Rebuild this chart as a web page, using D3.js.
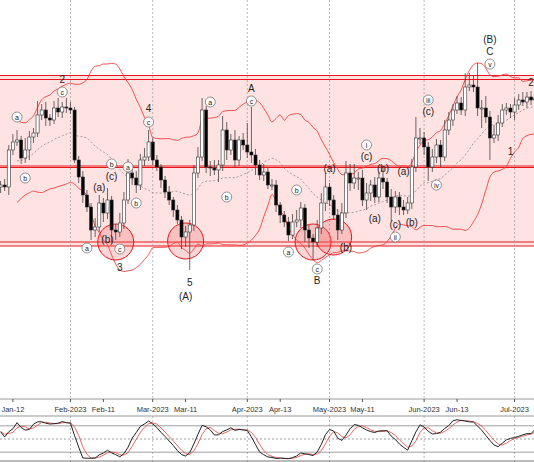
<!DOCTYPE html>
<html><head><meta charset="utf-8">
<script src="https://cdn.jsdelivr.net/npm/d3@7"></script>
<style>body{margin:0;background:#fff}svg{display:block;font-family:"Liberation Sans",Arial,sans-serif}</style>
</head><body><div id="vis"></div>
<script>
const W = 534, H = 462;
const PRICE_BOTTOM = 399;

// closes (arbitrary price units, higher = up), one per weekday from 2023-01-09
const closes = [215,213,250,258,260,242,250,263,267,285,290,282,280,292,288,293,292,290,240,223,205,193,170,173,197,187,200,170,168,177,200,227,222,215,240,243,258,240,233,220,208,200,190,180,163,168,175,227,243,290,233,232,230,235,270,250,260,240,260,255,248,245,235,225,228,215,215,195,185,178,165,178,180,192,170,162,158,172,197,213,200,185,170,187,227,217,222,222,200,207,215,203,222,218,203,193,203,193,190,197,233,262,262,253,233,243,255,243,270,280,290,297,290,313,315,313,292,292,283,262,265,277,290,292,288,295,300,298,303,300,302];
const upWick = [4,6,5,8,10,4,12,6,5,14,6,8,4,7,10,5,9,6,3,4,6,5,4,9,8,5,12,4,6,10,8,14,5,7,6,9,12,4,5,3,4,6,3,5,4,6,5,8,10,12,4,6,8,5,14,8,6,10,4,7,22,45,6,5,8,4,6,5,3,4,5,8,10,6,4,5,4,8,10,14,4,5,6,10,12,9,14,6,8,10,5,8,6,10,4,8,6,5,7,6,8,21,10,6,5,8,6,5,10,8,6,7,6,14,12,10,24,8,12,6,10,8,6,5,4,7,6,8,5,6,7];
const dnWick = [6,4,8,5,4,6,5,10,6,4,5,8,6,4,5,6,5,4,3,6,8,5,10,7,5,9,6,12,8,5,6,4,7,8,5,6,4,5,4,8,6,5,7,4,12,10,38,6,5,4,6,8,5,12,6,10,5,7,6,5,6,8,10,5,6,4,5,7,8,5,6,4,5,8,12,10,18,5,6,8,6,5,10,4,5,8,6,12,6,10,8,6,5,7,6,14,6,8,5,4,6,5,6,8,14,5,6,10,4,5,6,4,5,6,4,5,8,20,6,22,5,6,4,5,6,8,5,4,6,5,4];

const tickLabels = ["Jan-12","Feb-2023","Feb-11","Mar-2023","Mar-11","Apr-2023","Apr-13","May-2023","May-11","Jun-2023","Jun-13","Jul-2023"];
const tickDates = ["2023-01-12","2023-02-01","2023-02-13","2023-03-01","2023-03-13","2023-04-03","2023-04-13","2023-05-01","2023-05-11","2023-06-01","2023-06-13","2023-07-03"];
const monthStarts = ["2023-02-01","2023-03-01","2023-04-03","2023-05-01","2023-06-01","2023-07-03"];

// horizontal zone levels (pairs of thin lines)
const zoneLevels = [324.5, 320.5, 234, 232.5, 158, 154];

// wave labels: candle index, price, text, circled?
const waveLabels = [
  [4,283,"a",1],[6,222,"b",1],[15,308,"c",1],[15,320,"2",0],
  [21,152,"a",1],[24,212,"(a)",0],[26,160,"(b)",0],[27,223,"(c)",0],[27,236,"b",1],[29,151,"c",1],[29,132,"3",0],
  [31,233,"a",1],[33,197,"b",1],[36,278,"c",1],[36,291,"4",0],
  [46,117,"5",0],[45,103,"(A)",0],
  [51,298,"a",1],[55,203,"b",1],[61,299,"c",1],[61,311,"A",0],
  [70,148,"a",1],[72,210,"b",1],[77,131,"c",1],[77,119,"B",0],
  [80,231,"(a)",0],[84,152,"(b)",0],
  [89,255,"i",1],[89,243,"(c)",0],[91,181,"(a)",0],[93,231,"(b)",0],
  [96,175,"(c)",0],[96,163,"ii",1],[98,228,"(a)",0],[100,177,"(b)",0],
  [104,300,"iii",1],[104,288,"(c)",0],[106,215,"iv",1],
  [119,336,"v",1],[119,348,"C",0],[119,360,"(B)",0],
  [124,248,"1",0],[129,317,"2",0]
];

// circled areas: candle index, price
const circles = [[28,158],[45,159],[76,158],[81,163]];

// build dates
const dates = [];
let d = new Date(2023,0,9);
while (dates.length < closes.length) {
  if (d.getDay() !== 0 && d.getDay() !== 6) dates.push(new Date(d));
  d.setDate(d.getDate()+1);
}
const candles = closes.map((c,i) => {
  const o = i === 0 ? 213 : closes[i-1];
  return {i, date: dates[i], o, c, h: Math.max(o,c)+upWick[i], l: Math.min(o,c)-dnWick[i]};
});

const x = d3.scaleBand().domain(d3.range(closes.length)).range([-2, -2 + 4.12*closes.length]).padding(0.25);
const cx = i => x(i) + x.bandwidth()/2;
const y = d3.scaleLinear().domain([0,400]).range([400,0]);
const idxOf = s => { const t = new Date(s+"T00:00"); return dates.findIndex(dd => dd >= t); };

const svg = d3.select("#vis").append("svg").attr("width",W).attr("height",H);

// zone fill
svg.append("rect").attr("x",0).attr("width",W).attr("y",y(324.5)).attr("height",y(154)-y(324.5)).attr("fill","#ffe3e3");
zoneLevels.forEach(v => svg.append("line").attr("x1",0).attr("x2",W).attr("y1",y(v)).attr("y2",y(v))
  .attr("stroke","#e8161b").attr("stroke-width",1.1));

// month grid
monthStarts.forEach(s => svg.append("line").attr("x1",cx(idxOf(s))).attr("x2",cx(idxOf(s)))
  .attr("y1",0).attr("y2",H).attr("stroke","#999").attr("stroke-dasharray","2,2").attr("stroke-width",0.7));

// bollinger + sma
const N = 20;
const bb = candles.map((c,i) => {
  const win = closes.slice(Math.max(0,i-N+1), i+1);
  const m = d3.mean(win), sd = Math.sqrt(d3.mean(win, v => (v-m)*(v-m)));
  return {i, m, up: m+2*sd, lo: m-2*sd};
}).slice(4);
const ln = key => d3.line().x(b => cx(b.i)).y(b => y(b[key])).curve(d3.curveMonotoneX);
svg.append("path").attr("d",ln("up")(bb)).attr("fill","none").attr("stroke","#f04040").attr("stroke-width",0.9);
svg.append("path").attr("d",ln("lo")(bb)).attr("fill","none").attr("stroke","#f04040").attr("stroke-width",0.9);
svg.append("path").attr("d",ln("m")(bb)).attr("fill","none").attr("stroke","#888").attr("stroke-width",0.8).attr("stroke-dasharray","2,2");

// circles
svg.selectAll(".zc").data(circles).join("circle")
  .attr("cx",c => cx(c[0])).attr("cy",c => y(c[1])).attr("r",18)
  .attr("fill","rgba(240,90,90,0.25)").attr("stroke","#e8161b").attr("stroke-width",1);

// candles
const g = svg.append("g");
g.selectAll("line.w").data(candles).join("line")
  .attr("x1",c => cx(c.i)).attr("x2",c => cx(c.i)).attr("y1",c => y(c.h)).attr("y2",c => y(c.l))
  .attr("stroke","#444").attr("stroke-width",0.8);
g.selectAll("rect").data(candles).join("rect")
  .attr("x",c => x(c.i)).attr("width",x.bandwidth())
  .attr("y",c => y(Math.max(c.o,c.c))).attr("height",c => Math.max(1,Math.abs(y(c.o)-y(c.c))))
  .attr("fill",c => c.c >= c.o ? "#fff" : "#000").attr("stroke","#333").attr("stroke-width",0.6);

// wave labels
const wl = svg.append("g").attr("font-size",9).attr("text-anchor","middle");
waveLabels.forEach(([i,v,t,circ]) => {
  if (circ) wl.append("circle").attr("cx",cx(i)).attr("cy",y(v)).attr("r",5).attr("fill","#fff").attr("stroke","#666").attr("stroke-width",0.7);
  wl.append("text").attr("x",cx(i)).attr("y",y(v)+3).attr("font-size",circ ? 7 : 10).attr("fill","#222").text(t);
});

// x axis
svg.append("rect").attr("x",0).attr("y",PRICE_BOTTOM).attr("width",W).attr("height",17).attr("fill","#fff");
svg.append("line").attr("x1",0).attr("x2",W).attr("y1",PRICE_BOTTOM).attr("y2",PRICE_BOTTOM).attr("stroke","#999");
svg.append("line").attr("x1",0).attr("x2",W).attr("y1",416).attr("y2",416).attr("stroke","#999");
tickDates.forEach((s,k) => {
  const px = cx(idxOf(s));
  svg.append("line").attr("x1",px).attr("x2",px).attr("y1",PRICE_BOTTOM).attr("y2",PRICE_BOTTOM+3).attr("stroke","#555");
  svg.append("text").attr("x",px).attr("y",412).attr("font-size",7.5).attr("text-anchor","middle").attr("fill","#333").text(tickLabels[k]);
});

// stochastic 14,3,3
const kRaw = candles.map((c,i) => {
  const w = candles.slice(Math.max(0,i-13), i+1);
  const hh = d3.max(w, q => q.h), ll = d3.min(w, q => q.l);
  return 100*(c.c-ll)/(hh-ll);
});
const sma = (a,n) => a.map((_,i) => d3.mean(a.slice(Math.max(0,i-n+1), i+1)));
const K = sma(kRaw,3), D = sma(K,3);
const ys = d3.scaleLinear().domain([0,100]).range([461,417]);
svg.append("line").attr("x1",0).attr("x2",W).attr("y1",461).attr("y2",461).attr("stroke","#777");
[80,20].forEach(v => svg.append("line").attr("x1",0).attr("x2",W).attr("y1",ys(v)).attr("y2",ys(v)).attr("stroke","#777").attr("stroke-width",0.7));
svg.append("line").attr("x1",0).attr("x2",W).attr("y1",ys(50)).attr("y2",ys(50)).attr("stroke","#777").attr("stroke-dasharray","2,2").attr("stroke-width",0.7);
const sl = d3.line().x((v,i) => cx(i)).y(v => ys(v));
svg.append("path").attr("d",sl(D)).attr("fill","none").attr("stroke","#e04040").attr("stroke-width",0.8);
svg.append("path").attr("d",sl(K)).attr("fill","none").attr("stroke","#222").attr("stroke-width",1);
</script></body></html>
